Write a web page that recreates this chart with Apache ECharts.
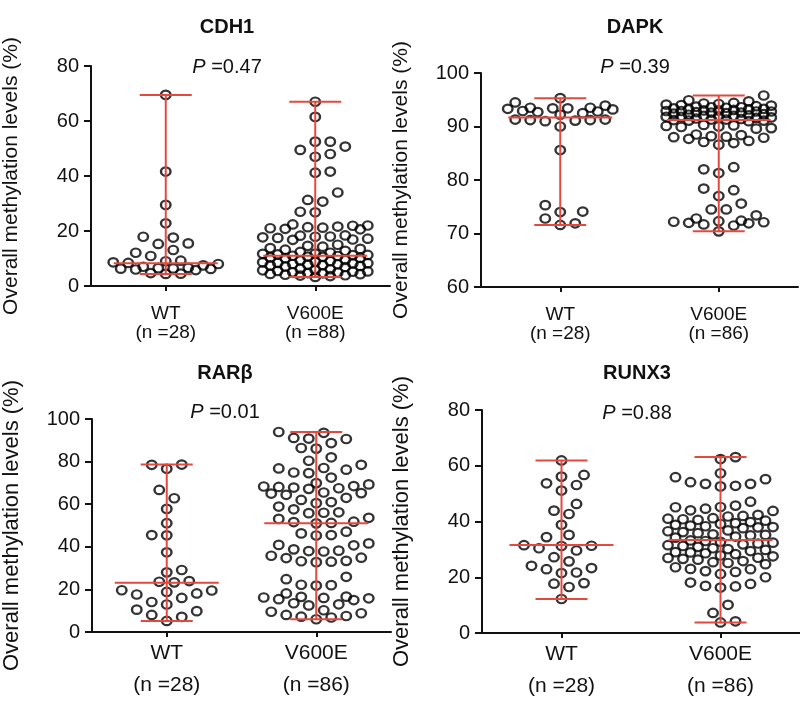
<!DOCTYPE html>
<html><head><meta charset="utf-8">
<script src="https://cdn.jsdelivr.net/npm/echarts@6/dist/echarts.min.js"></script>
<style>html,body{margin:0;padding:0;background:#fff}#c{width:800px;height:703px}</style>
</head><body><div id="c"></div>
<script>
// ---------------- data ----------------
const groups = ['WT', 'V600E'];
const genes = ['CDH1', 'DAPK', 'RARβ', 'RUNX3'];
const pValues = ['0.47', '0.39', '0.01', '0.88'];
const yMin = [0, 60, 0, 0];
const yMax = [80, 100, 100, 80];
const yStep = [20, 10, 20, 20];
const yTitle = 'Overall methylation levels (%)';

const cdh1WT = [69.5, 41.6, 29.5, 22.8, 17.9, 17.6, 15.3, 15.5, 12.1, 13.1, 10.9,
  9.2, 9.0, 8.6, 8.4, 8.0, 7.5, 7.0, 6.6, 6.3, 6.5, 6.4, 6.2, 6.0, 5.8, 4.7, 4.5, 4.4];
const cdh1V600E = [67.0, 61.5, 52.5, 52.5, 50.7, 49.5, 48.0, 47.0, 41.2, 41.6, 34.0, 30.7, 31.3, 26.8, 27.0,
  21.6, 22.0, 21.2, 20.8, 22.4, 21.4, 21.9, 20.6, 21.0,
  17.9, 18.3, 17.2, 16.8, 18.0, 17.5, 17.7, 16.9, 18.4,
  14.3, 13.2, 15.0, 13.8, 14.6, 12.8, 13.5,
  10.7, 11.3, 10.2, 11.8, 10.9, 11.5, 10.4, 12.1, 11.0, 10.6, 11.7, 10.1, 11.2, 12.4,
  8.2, 7.6, 9.0, 7.3, 8.6, 7.9, 8.8, 7.1, 9.3, 8.0, 7.5, 8.4, 6.9, 9.5, 7.8, 8.3,
  4.7, 5.3, 3.9, 4.4, 5.8, 3.6, 4.9, 5.5, 4.1, 6.1, 3.3, 5.0, 4.6, 5.7, 3.8, 6.3, 4.3, 5.2];
const dapkWT = [95.3, 94.5, 93.9, 93.5, 93.4, 93.3, 93.5, 93.2, 93.4, 92.9, 92.7, 92.8, 92.5, 92.2,
  91.3, 91.2, 91.0, 91.1, 91.3, 91.2, 90.0, 85.6, 75.3, 74.1, 74.0, 72.8, 71.6, 71.9];
const dapkV600E = [95.8,
  91.1, 91.4, 91.0, 91.3, 91.2, 91.5, 91.1, 91.3,
  91.8, 92.3, 91.6, 92.0, 92.4, 91.9, 92.2, 91.7, 92.1, 92.5, 91.8, 92.0,
  92.8, 93.2, 92.6, 93.0, 93.4, 92.9, 93.1, 92.7, 93.3, 93.0, 92.6, 93.5, 92.8, 93.2, 92.9,
  93.8, 94.2, 93.6, 94.0, 94.4, 93.7, 94.1, 93.9, 94.3, 93.6, 94.7, 94.9,
  90.0, 89.7, 90.3, 89.9, 90.2, 89.6, 90.1,
  88.0, 88.4, 87.7, 88.1, 88.5, 87.9, 88.2,
  87.1, 86.9, 86.6, 87.3, 82.4, 81.3, 82.0, 78.4, 78.1, 77.0, 75.6, 74.5, 74.5, 73.4, 72.8,
  72.3, 72.0, 71.5, 72.4, 72.2, 71.9, 72.1, 71.7, 70.4];
const rarbWT = [78.5, 78.6, 76.6, 66.7, 62.8, 57.8, 51.1, 45.5, 45.4, 37.4, 28.0, 29.1,
  23.6, 23.9, 23.3, 17.6, 16.0, 19.6, 18.8, 19.5, 18.1, 14.1, 12.9, 10.5, 9.8, 8.0, 7.1, 5.2];
const rarbV600E = [93.9, 93.5, 91.1, 90.8, 90.6, 88.7, 86.4, 86.1, 82.0, 80.4,
  78.5, 76.8, 77.0, 76.2, 74.6, 74.9, 72.5, 68.3, 67.5, 68.1,
  69.9, 67.8, 68.5, 69.3, 67.2, 65.2, 65.5, 64.4, 65.0, 63.0,
  62.0, 60.5, 61.0, 58.9, 56.2, 56.0, 57.6, 55.8, 53.1, 51.8,
  51.0, 51.2, 51.6, 53.6, 47.1, 45.5, 46.3, 45.3, 41.6, 40.9,
  40.7, 38.0, 37.8, 38.2, 38.8, 34.9, 33.0, 33.2, 32.8, 33.4,
  34.7, 35.8, 25.9, 24.8, 22.0, 21.8, 22.2, 18.1, 16.5, 15.4,
  15.0, 16.2, 15.8, 16.0, 16.6, 13.5, 13.0, 12.5, 10.2, 9.5,
  8.0, 7.5, 6.8, 6.0, 7.2, 8.8];
const runx3WT = [61.9, 56.7, 56.1, 53.7, 53.1, 51.1, 46.3, 43.9, 42.7, 38.8,
  35.2, 34.4, 31.3, 30.4, 29.6, 31.5, 31.2, 27.2, 24.1, 22.9,
  23.3, 21.5, 25.7, 21.7, 17.7, 17.9, 16.5, 12.2];
const runx3V600E = [62.4, 63.1, 57.3, 55.2, 53.5, 52.8, 52.6, 53.5, 54.1, 55.9,
  47.1, 45.7, 44.6, 43.8, 45.1, 44.0, 45.2,
  41.2, 42.0, 40.6, 41.8, 40.3, 42.4, 41.0, 40.8,
  38.5, 39.4, 38.0, 39.8, 38.8, 37.9, 39.1, 38.3, 37.6,
  36.2, 35.4, 36.8, 35.0, 35.8, 36.5, 34.6, 35.2, 34.2,
  33.0, 32.4, 33.2, 31.8, 32.7, 31.5, 32.1, 30.9, 31.2,
  30.1, 29.4, 29.8, 28.6, 29.0, 28.3, 30.4, 28.9,
  27.0, 26.3, 27.5, 25.8, 26.6, 25.4, 26.9, 25.1, 27.8,
  23.6, 22.9, 21.9, 21.2, 22.2, 23.0, 24.7,
  18.1, 16.7, 16.3, 16.9, 17.6, 20.0,
  10.1, 7.2, 3.8, 4.2];
const cdh1Median = [8.3, 11.0];
const dapkMedian = [91.7, 91.2];
const rarbMedian = [23.1, 51.0];
const runx3Median = [31.6, 33.4];

const panelData = [[cdh1WT, cdh1V600E], [dapkWT, dapkV600E], [rarbWT, rarbV600E], [runx3WT, runx3V600E]];
const panelMedian = [cdh1Median, dapkMedian, rarbMedian, runx3Median];

// ---------------- layout ----------------
const FONT = '"Liberation Sans", Arial, Helvetica, sans-serif';
const RED = '#e5483d';
const INK = '#111111';
const panels = [
  {left: 81, top: 66, width: 309, height: 220, titleX: 227, titleY: 27, pY: 67, xFont: 19, xLH: 19, xMargin: 18, nameFont: 21},
  {left: 481, top: 73, width: 317, height: 214, titleX: 635, titleY: 27, pY: 67, xFont: 19, xLH: 19, xMargin: 18, nameFont: 21},
  {left: 81, top: 419, width: 310, height: 213, titleX: 225, titleY: 373, pY: 412, xFont: 21, xLH: 32, xMargin: 5, nameFont: 22},
  {left: 482, top: 410, width: 324, height: 223, titleX: 637, titleY: 373, pY: 413, xFont: 21, xLH: 32, xMargin: 5, nameFont: 22}
];

const chart = echarts.init(document.getElementById('c'), null, {renderer: 'canvas'});

const grid = [], xAxis = [], yAxis = [], series = [], graphic = [];
panels.forEach((p, g) => {
  grid.push({left: p.left, top: p.top, width: p.width, height: p.height, containLabel: false});
  xAxis.push({
    type: 'category', gridIndex: g,
    data: groups.map((name, k) => name + '\n(n =' + panelData[g][k].length + ')'),
    boundaryGap: true,
    axisLine: {show: true, onZero: false, lineStyle: {color: INK, width: 2}},
    axisTick: {show: true, alignWithLabel: true, length: 5, lineStyle: {color: INK, width: 2}},
    axisLabel: {color: INK, fontFamily: FONT, fontSize: p.xFont, lineHeight: p.xLH, margin: p.xMargin},
    splitLine: {show: false}
  });
  yAxis.push({
    type: 'value', gridIndex: g, min: yMin[g], max: yMax[g], interval: yStep[g],
    name: yTitle, nameLocation: 'middle', nameGap: 69,
    nameTextStyle: {color: INK, fontFamily: FONT, fontSize: p.nameFont},
    axisLine: {show: true, onZero: false, lineStyle: {color: INK, width: 2}},
    axisTick: {show: true, length: 7, lineStyle: {color: INK, width: 2}},
    axisLabel: {color: INK, fontFamily: FONT, fontSize: 20, margin: 12},
    splitLine: {show: false}
  });
  const pts = [];
  panelData[g].forEach((vals, c) => vals.forEach(v => pts.push({value: [c, v]})));
  series.push({
    id: 'pts' + g, type: 'scatter', xAxisIndex: g, yAxisIndex: g,
    symbol: 'circle', symbolSize: [9.5, 8.5],
    itemStyle: {color: 'rgba(255,255,255,0)', borderColor: '#000', borderWidth: 2.3},
    data: pts, z: 2, silent: true
  });
  const stats = panelData[g].map((vals, c) => [c, Math.min(...vals), panelMedian[g][c], Math.max(...vals)]);
  series.push({
    id: 'rng' + g, type: 'custom', xAxisIndex: g, yAxisIndex: g, z: 5, silent: true,
    data: stats,
    renderItem: function (params, api) {
      const c = api.value(0);
      const pMin = api.coord([c, api.value(1)]);
      const pMed = api.coord([c, api.value(2)]);
      const pMax = api.coord([c, api.value(3)]);
      const st = {stroke: RED, lineWidth: 2};
      const x = pMed[0];
      return {type: 'group', children: [
        {type: 'line', shape: {x1: x, y1: pMin[1], x2: x, y2: pMax[1]}, style: st},
        {type: 'line', shape: {x1: x - 52, y1: pMed[1], x2: x + 52, y2: pMed[1]}, style: st},
        {type: 'line', shape: {x1: x - 26, y1: pMax[1], x2: x + 26, y2: pMax[1]}, style: st},
        {type: 'line', shape: {x1: x - 26, y1: pMin[1], x2: x + 26, y2: pMin[1]}, style: st}
      ]};
    }
  });
  graphic.push({
    type: 'text', x: p.titleX, y: p.titleY,
    style: {text: genes[g], fill: INK, font: 'bold 20px ' + FONT, align: 'center', verticalAlign: 'middle'}
  });
  graphic.push({
    type: 'text', x: p.titleX, y: p.pY,
    style: {
      text: '{i|P} =' + pValues[g], fill: INK, font: '20px ' + FONT, align: 'center', verticalAlign: 'middle',
      rich: {i: {fontStyle: 'italic', fontSize: 20, fontFamily: FONT, fill: INK}}
    }
  });
});

chart.setOption({
  animation: false, backgroundColor: '#ffffff',
  grid, xAxis, yAxis, series, graphic
});

// beeswarm offsets in pixel space
function swarm(pys) {
  const idx = pys.map((p, i) => i).sort((a, b) => pys[b] - pys[a]);
  const placed = [];
  const off = new Array(pys.length).fill(0);
  const D = 12, STEP = 7.5, MAXK = 7;
  const cands = [];
  for (let k = -MAXK; k <= MAXK; k++) cands.push(k * STEP);
  let flip = false;
  idx.forEach(i => {
    const y = pys[i];
    const order = cands.slice().sort((a, b) => Math.abs(a) - Math.abs(b) || (flip ? b - a : a - b));
    let best = 0, bestD = -1;
    for (const x of order) {
      let md = Infinity;
      for (const q of placed) {
        const d = Math.hypot(q[0] - x, q[1] - y);
        if (d < md) md = d;
      }
      if (md >= D) { best = x; bestD = md; break; }
      if (md > bestD) { bestD = md; best = x; }
    }
    flip = !flip;
    placed.push([best, y]);
    off[i] = best;
  });
  return off;
}

const upd = [];
panels.forEach((p, g) => {
  const pts = [];
  panelData[g].forEach((vals, c) => {
    const pys = vals.map(v => chart.convertToPixel({gridIndex: g}, [c, v])[1]);
    const off = swarm(pys);
    vals.forEach((v, i) => pts.push({value: [c, v], symbolOffset: [off[i], 0]}));
  });
  upd.push({id: 'pts' + g, data: pts});
});
chart.setOption({series: upd});
</script>
</body></html>
